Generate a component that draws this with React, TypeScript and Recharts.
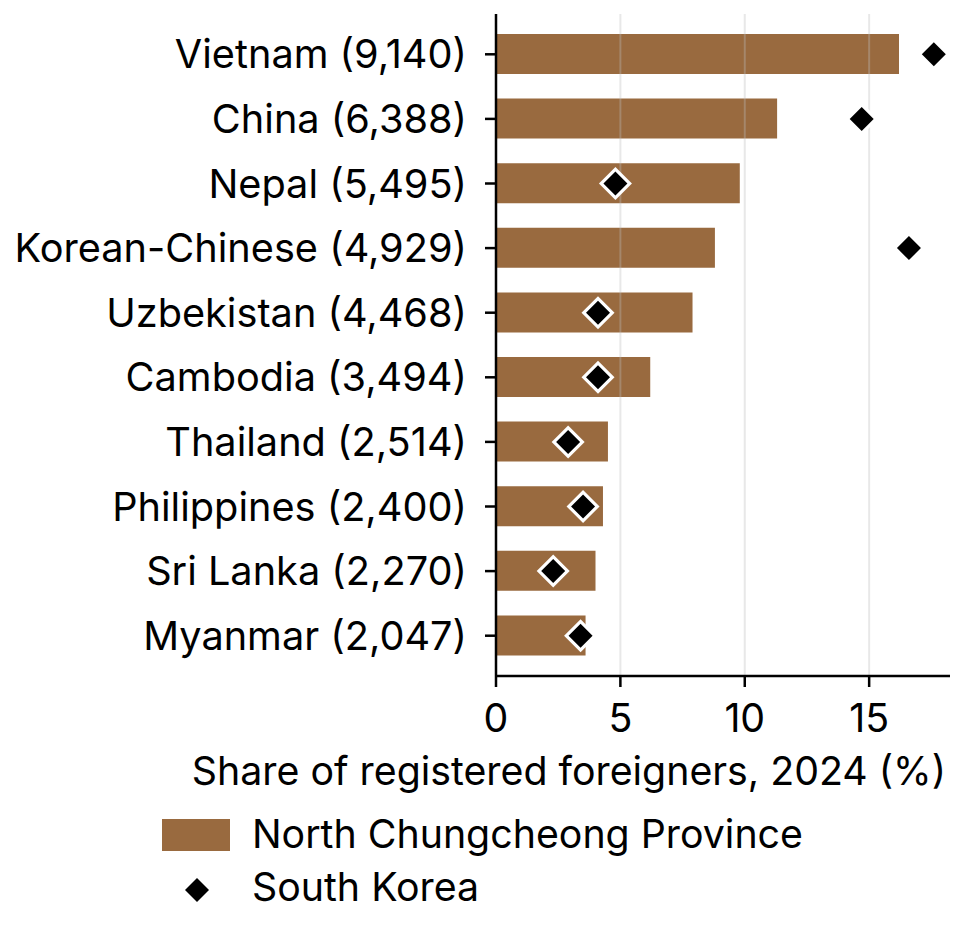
import {
  ComposedChart,
  Bar,
  Scatter,
  XAxis,
  YAxis,
  ReferenceLine,
  Legend,
  Label,
} from "recharts";

const countries = [
  "Vietnam",
  "China",
  "Nepal",
  "Korean-Chinese",
  "Uzbekistan",
  "Cambodia",
  "Thailand",
  "Philippines",
  "Sri Lanka",
  "Myanmar",
];
const counts = [9140, 6388, 5495, 4929, 4468, 3494, 2514, 2400, 2270, 2047];
// share of registered foreigners, 2024 (%)
const northChungcheong = [16.2, 11.3, 9.8, 8.8, 7.9, 6.2, 4.5, 4.3, 4.0, 3.6];
const southKorea = [17.6, 14.7, 4.8, 16.6, 4.1, 4.1, 2.9, 3.5, 2.3, 3.4];
const xTicks = [0, 5, 10, 15];
const gridTicks = [5, 10, 15];

const BAR_COLOR = "#996A3F";
const FONT = "Inter, 'Noto Sans', sans-serif";
const FONT_SIZE = 39.3;

const data = countries.map((c, i) => ({
  label: `${c} (${counts[i].toLocaleString("en-US")})`,
  north: northChungcheong[i],
  korea: southKorea[i],
}));

function Diamond({ cx, cy }: { cx?: number; cy?: number }) {
  if (cx == null || cy == null) return null;
  const outer = 16.5;
  const inner = 12;
  return (
    <g>
      <polygon
        points={`${cx},${cy - outer} ${cx + outer},${cy} ${cx},${cy + outer} ${cx - outer},${cy}`}
        fill="#ffffff"
      />
      <polygon
        points={`${cx},${cy - inner} ${cx + inner},${cy} ${cx},${cy + inner} ${cx - inner},${cy}`}
        fill="#000000"
      />
    </g>
  );
}

function AxisTitle({ viewBox }: { viewBox?: { x: number; y: number; width: number; height: number } }) {
  if (!viewBox) return null;
  return (
    <text
      x={viewBox.x + viewBox.width - 4}
      y={viewBox.y + 109}
      textAnchor="end"
      fill="#000"
      fontSize={FONT_SIZE}
      fontFamily={FONT}
    >
      Share of registered foreigners, 2024 (%)
    </text>
  );
}

function LegendBox() {
  return (
    <svg width={680} height={110} style={{ display: "block" }}>
      <rect x={12} y={9} width={68} height={32} fill={BAR_COLOR} />
      <text x={102} y={38} fontSize={FONT_SIZE} fontFamily={FONT} fill="#000">
        North Chungcheong Province
      </text>
      <Diamond cx={47} cy={80} />
      <text x={102} y={91} fontSize={FONT_SIZE} fontFamily={FONT} fill="#000">
        South Korea
      </text>
    </svg>
  );
}

export default function App() {
  return (
    <div style={{ position: "absolute", left: 0, top: 0, width: 962, height: 925, background: "#fff" }}>
      <ComposedChart
        width={962}
        height={925}
        data={data}
        layout="vertical"
        margin={{ top: 14, right: 12, bottom: 189, left: 0 }}
        style={{ fontFamily: FONT }}
      >
        <XAxis
          type="number"
          domain={[0, 18.25]}
          ticks={xTicks}
          allowDataOverflow
          height={60}
          tickSize={11}
          tickMargin={17}
          tick={{ fill: "#000", fontSize: FONT_SIZE, fontFamily: FONT }}
          axisLine={{ stroke: "#000", strokeWidth: 2.5 }}
          tickLine={{ stroke: "#000", strokeWidth: 2.5 }}
        >
          <Label content={<AxisTitle />} />
        </XAxis>
        <YAxis
          type="category"
          dataKey="label"
          width={496}
          padding={{ top: 8, bottom: 8 }}
          tickSize={11}
          tickMargin={18}
          interval={0}
          tick={{ fill: "#000", fontSize: 39.7, fontFamily: FONT }}
          axisLine={{ stroke: "#000", strokeWidth: 2.5 }}
          tickLine={{ stroke: "#000", strokeWidth: 2.5 }}
        />
        <Bar
          dataKey="north"
          name="North Chungcheong Province"
          fill={BAR_COLOR}
          barSize={40}
          isAnimationActive={false}
        />
        {gridTicks.map((t) => (
          <ReferenceLine key={t} x={t} stroke="rgba(190,190,190,0.35)" strokeWidth={2} />
        ))}
        <Scatter
          dataKey="korea"
          name="South Korea"
          fill="#000"
          shape={(p: any) => <Diamond cx={p.cx} cy={p.cy} />}
          isAnimationActive={false}
        />
        <Legend
          layout="vertical"
          align="center"
          verticalAlign="middle"
          content={() => <LegendBox />}
          wrapperStyle={{ left: 150, top: 810, width: 680, height: 110 }}
        />
      </ComposedChart>
    </div>
  );
}
